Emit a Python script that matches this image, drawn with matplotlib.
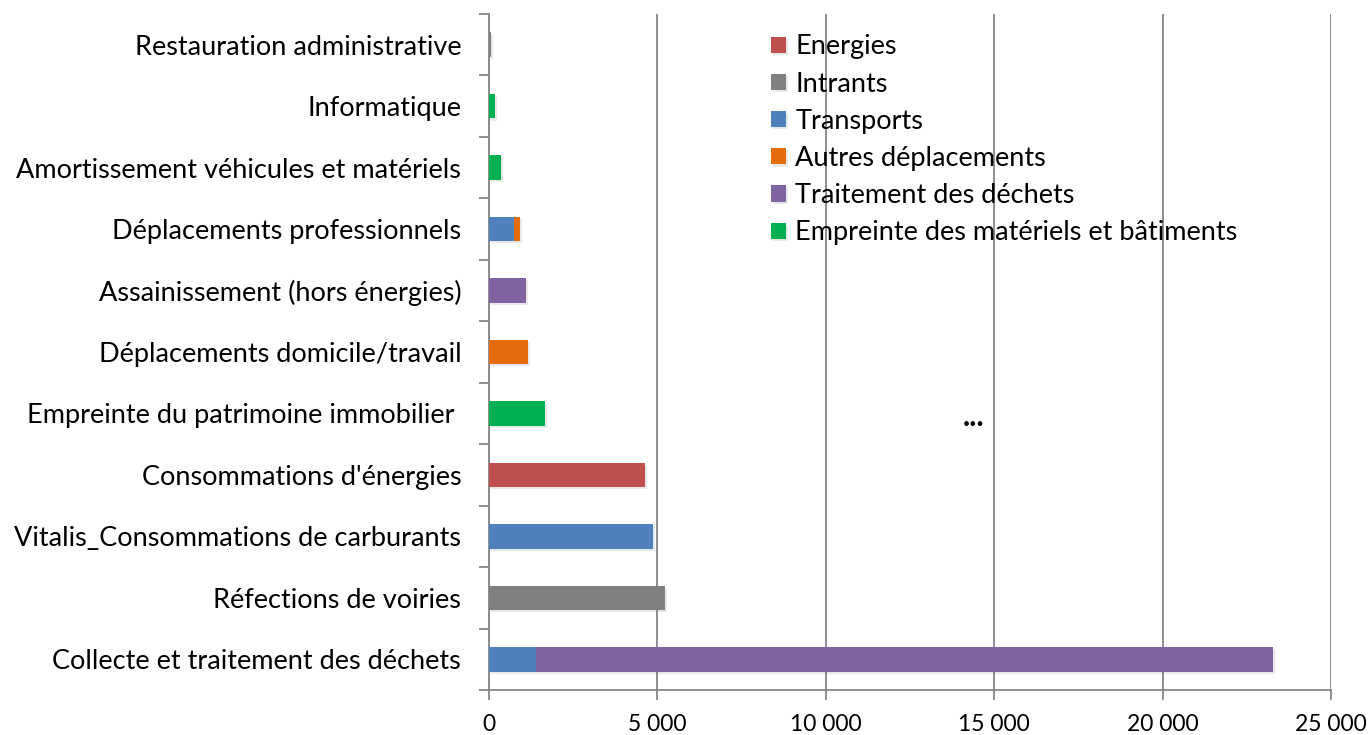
import matplotlib.pyplot as plt
import matplotlib.patheffects as pe
import numpy as np

plt.rcParams.update({
    "font.family": ["Lato", "DejaVu Sans"],
    "font.size": 19.5,
})

# categories listed from bottom to top
categories = [
    "Collecte et traitement des déchets",
    "Réfections de voiries",
    "Vitalis_Consommations de carburants",
    "Consommations d'énergies",
    "Empreinte du patrimoine immobilier ",
    "Déplacements domicile/travail",
    "Assainissement (hors énergies)",
    "Déplacements professionnels",
    "Amortissement véhicules et matériels",
    "Informatique",
    "Restauration administrative",
]

series_names = ["Energies", "Intrants", "Transports", "Autres déplacements",
                "Traitement des déchets", "Empreinte des matériels et bâtiments"]
series_colors = ["#C0504D", "#808080", "#4F81BD", "#E46C0A", "#8064A2", "#00B050"]

energies = [0, 0, 0, 4630, 0, 0, 0, 0, 0, 0, 0]
intrants = [0, 5230, 0, 0, 0, 0, 0, 0, 0, 0, 60]
transports = [1400, 0, 4870, 0, 0, 0, 0, 740, 0, 0, 0]
autres_depl = [0, 0, 0, 0, 0, 1160, 0, 180, 0, 0, 0]
dechets = [21880, 0, 0, 0, 0, 0, 1100, 0, 0, 0, 0]
empreinte = [0, 0, 0, 0, 1660, 0, 0, 0, 360, 180, 0]

series = [energies, intrants, transports, autres_depl, dechets, empreinte]

fig = plt.figure(figsize=(13.71, 7.35), dpi=100)
ax = fig.add_axes([489 / 1371, (735 - 690) / 735, (1331 - 489) / 1371, (690 - 14) / 735])

y = np.arange(len(categories))
left = np.zeros(len(categories))
shadow = [pe.SimplePatchShadow(offset=(1.5, -1.5), alpha=0.1), pe.Normal()]
for name, vals, col in zip(series_names, series, series_colors):
    vals = np.array(vals, dtype=float)
    ax.barh(y, vals, left=left, height=0.4, color=col, label=name,
            path_effects=shadow, zorder=3)
    left += vals

ax.set_xlim(0, 25000)
ax.set_ylim(-0.5, len(categories) - 0.5)
ax.set_xticks(np.arange(0, 25001, 5000))
ax.set_xticklabels(["0" if v == 0 else f"{v:,}".replace(",", " ") for v in range(0, 25001, 5000)],
                   fontsize=16.5)
ax.set_yticks(y)
ax.set_yticklabels(categories)
ax.set_yticks(np.arange(-0.5, len(categories), 1), minor=True)
ax.tick_params(axis="y", which="major", length=0, pad=20)
ax.tick_params(axis="y", which="minor", length=7, width=1.3, color="#868686")
ax.tick_params(axis="x", length=7, width=1.3, color="#868686", pad=10)

ax.grid(axis="x", color="#868686", linewidth=1.3, zorder=0)
ax.set_axisbelow(True)
for s in ["top", "right"]:
    ax.spines[s].set_visible(False)
for s in ["left", "bottom"]:
    ax.spines[s].set_color("#868686")
    ax.spines[s].set_linewidth(1.3)

ax.text(14400, 3.95, "...", ha="center", va="center", fontsize=22, fontweight="bold")

leg = ax.legend(loc="upper left", bbox_to_anchor=(0.306, 1.006), frameon=False,
                handlelength=0.55, handleheight=0.55, handletextpad=0.35,
                labelspacing=0.45, fontsize=19.5)

fig.savefig("out.png", dpi=100)
